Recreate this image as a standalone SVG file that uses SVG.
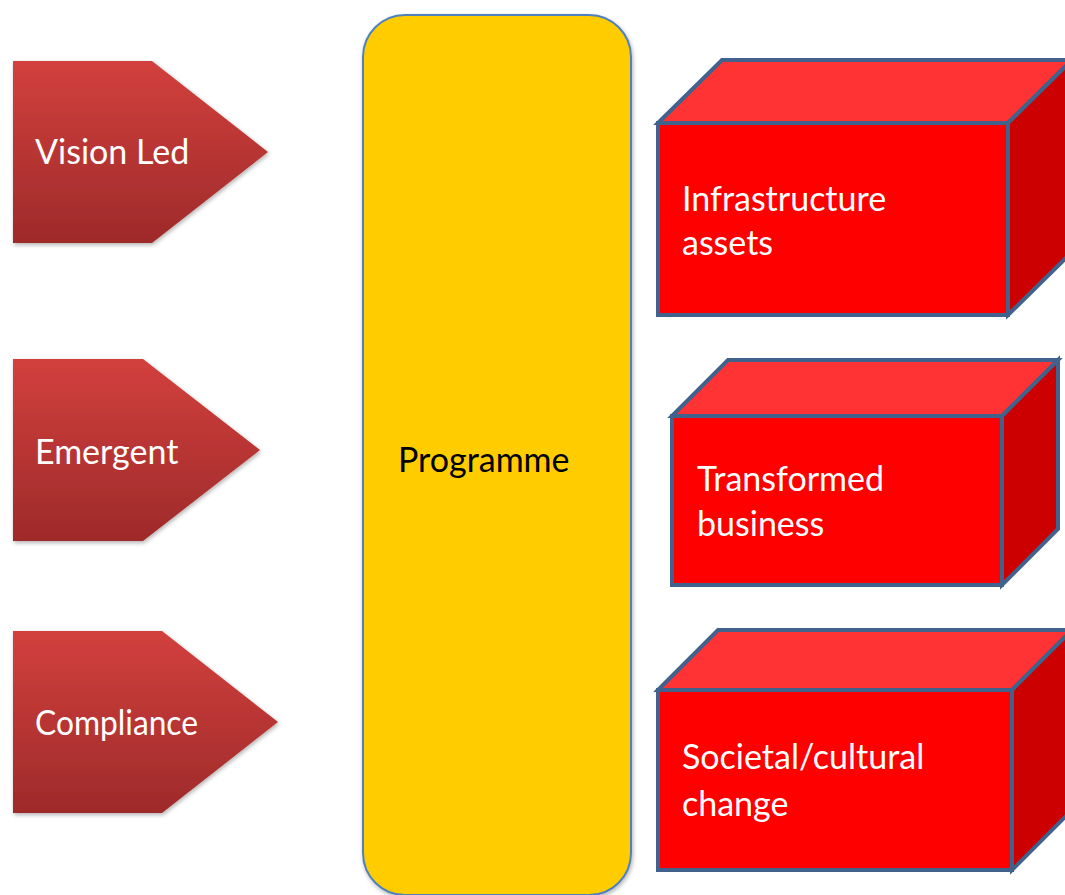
<svg xmlns="http://www.w3.org/2000/svg" width="1065" height="895" viewBox="0 0 1065 895">
  <style>
    .lbl { font-family: Lato, "Liberation Sans", sans-serif; font-size: 34px; fill: #ffffff; }
    .dark { fill: #000000; }
    .arrow { fill: url(#redGrad); filter: url(#soft); }
    .face { stroke: #41628C; stroke-width: 4; stroke-linejoin: miter; }
    .front { fill: #FF0000; }
    .top { fill: #FF3333; }
    .side { fill: #CC0000; }
  </style>
  <defs>
    <linearGradient id="redGrad" x1="0" y1="0" x2="0" y2="1">
      <stop offset="0" stop-color="#D2403D"/>
      <stop offset="1" stop-color="#9E2A2A"/>
    </linearGradient>
    <filter id="soft" x="-10%" y="-10%" width="125%" height="125%">
      <feDropShadow dx="1" dy="2" stdDeviation="2" flood-color="#000" flood-opacity="0.3"/>
    </filter>
  </defs>

  <!-- input chevrons -->
  <g id="vision-led">
    <polygon class="arrow" points="13,61 152,61 268,152 152,243 13,243"/>
    <text class="lbl" x="35" y="164">Vision Led</text>
  </g>
  <g id="emergent">
    <polygon class="arrow" points="13,359 143,359 260,450 143,541 13,541"/>
    <text class="lbl" x="35" y="464">Emergent</text>
  </g>
  <g id="compliance">
    <polygon class="arrow" points="13,631 162,631 278,722 162,813 13,813"/>
    <text class="lbl" x="35" y="735" textLength="163" lengthAdjust="spacingAndGlyphs">Compliance</text>
  </g>

  <!-- central programme bar -->
  <g id="programme">
    <rect x="363" y="15" width="268" height="880" rx="42" ry="42" fill="#FFCC00" stroke="#4F81BD" stroke-width="2" filter="url(#soft)"/>
    <text class="lbl dark" x="398" y="472">Programme</text>
  </g>

  <!-- output blocks -->
  <g id="infrastructure-assets">
    <polygon class="face top" points="658,123 722,60 1072,60 1008,123"/>
    <polygon class="face side" points="1008,123 1072,60 1072,252 1008,315"/>
    <rect class="face front" x="658" y="123" width="350" height="192"/>
    <text class="lbl" x="682" y="211">Infrastructure</text>
    <text class="lbl" x="682" y="255">assets</text>
  </g>
  <g id="transformed-business">
    <polygon class="face top" points="672,416 728,360 1058,360 1002,416"/>
    <polygon class="face side" points="1002,416 1058,360 1058,529 1002,585"/>
    <rect class="face front" x="672" y="416" width="330" height="169"/>
    <text class="lbl" x="697" y="491">Transformed</text>
    <text class="lbl" x="697" y="536">business</text>
  </g>
  <g id="societal-change">
    <polygon class="face top" points="658,690 718,630 1072,630 1012,690"/>
    <polygon class="face side" points="1012,690 1072,630 1072,810 1012,870"/>
    <rect class="face front" x="658" y="690" width="354" height="180"/>
    <text class="lbl" x="682" y="769">Societal/cultural</text>
    <text class="lbl" x="682" y="816">change</text>
  </g>

  <g id="connectors"></g>
</svg>
